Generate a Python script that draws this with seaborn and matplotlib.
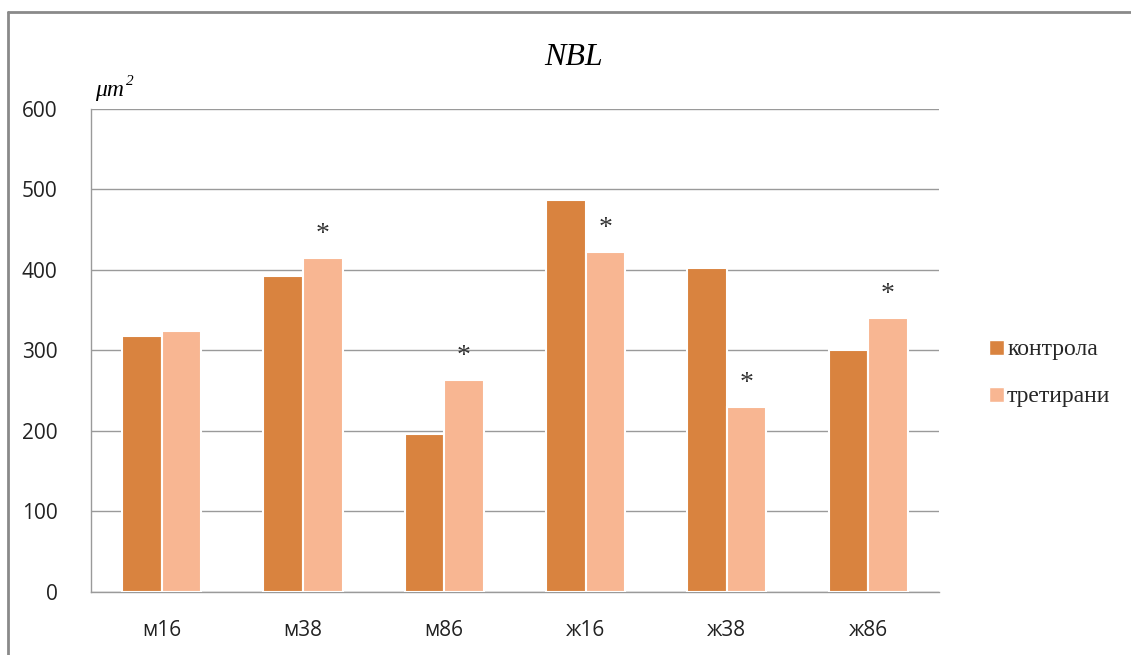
import matplotlib
matplotlib.use("Agg")
import matplotlib.pyplot as plt
import seaborn as sns
import pandas as pd
from matplotlib.patches import Patch
from matplotlib.lines import Line2D

categories = ["м16", "м38", "м86", "ж16", "ж38", "ж86"]
control = [318, 392, 196, 487, 402, 300]
treated = [324, 415, 263, 422, 230, 340]
significant = [False, True, True, True, True, True]
series_names = ["контрола", "третирани"]
yticks = [0, 100, 200, 300, 400, 500, 600]

colors = ["#D9833F", "#F8B692"]

df = pd.DataFrame({
    "cat": categories * 2,
    "value": control + treated,
    "group": [series_names[0]] * len(categories) + [series_names[1]] * len(categories),
})

sns.set_theme(style="white")
plt.rcParams["font.family"] = ["Open Sans", "DejaVu Sans"]

fig = plt.figure(figsize=(11.31, 6.55), dpi=100)
ax = fig.add_axes([0.0805, 0.0962, 0.7495, 0.7374])

sns.barplot(data=df, x="cat", y="value", hue="group", order=categories,
            hue_order=series_names, palette=colors, width=0.56, saturation=1,
            edgecolor="white", linewidth=1.5, ax=ax, legend=False, zorder=3)

ax.set_ylim(0, 600)
ax.set_yticks(yticks)
ax.set_yticklabels([str(t) for t in yticks], fontsize=15, color="#222222")
ax.tick_params(axis="x", labelsize=15, colors="#222222", pad=20, length=0)
ax.tick_params(axis="y", pad=24, length=0)
ax.set_xlabel("")
ax.set_ylabel("")
ax.yaxis.grid(True, color="#9a9a9a", linewidth=1)
ax.set_axisbelow(True)
for s in ["top", "right"]:
    ax.spines[s].set_visible(False)
for s in ["left", "bottom"]:
    ax.spines[s].set_color("#9a9a9a")
    ax.spines[s].set_linewidth(1)

# asterisks above treated bars
treated_bars = ax.containers[1]
for bar, val, sig in zip(treated_bars, treated, significant):
    if sig:
        ax.annotate("*", (bar.get_x() + bar.get_width() / 2, val),
                    xytext=(0, 8), textcoords="offset points",
                    ha="center", va="bottom", fontsize=20, color="#333333",
                    family="Liberation Serif")

fig.text(0.5075, 0.912, "NBL", ha="center", va="center", fontsize=23,
         style="italic", family="Liberation Serif", color="black")
fig.text(0.084, 0.862, "μm", ha="left", va="center", fontsize=17,
         style="italic", family="Liberation Serif", color="black")
fig.text(0.1115, 0.876, "2", ha="left", va="center", fontsize=11,
         style="italic", family="Liberation Serif", color="black")

handles = [Patch(facecolor=c, edgecolor="white") for c in colors]
leg = fig.legend(handles, series_names, loc="center left",
                 bbox_to_anchor=(0.856, 0.43), frameon=False,
                 prop={"family": "Liberation Serif", "size": 17},
                 handlelength=0.6, handleheight=0.6, handletextpad=0.15,
                 labelspacing=1.1)

# outer chart border
fig.add_artist(Line2D([0.0075, 0.0075], [0.0, 0.982], color="#8a8a8a", linewidth=2))
fig.add_artist(Line2D([0.0075, 1.0], [0.982, 0.982], color="#8a8a8a", linewidth=2))

fig.savefig("out.png", dpi=100)
